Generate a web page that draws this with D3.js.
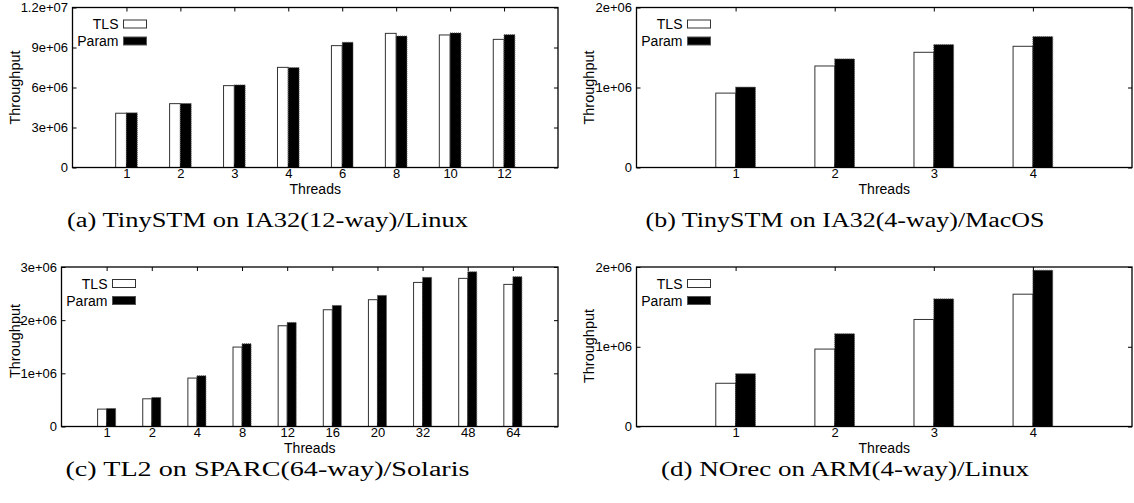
<!DOCTYPE html>
<html>
<head>
<meta charset="utf-8">
<script src="https://cdn.jsdelivr.net/npm/d3@7"></script>
<style>
  html, body { margin: 0; padding: 0; background: #fff; }
  svg text { font-family: "Liberation Sans", Arial, Helvetica, sans-serif; fill: #000; }
  .caption { font-family: "Liberation Serif", "DejaVu Serif", serif; }
</style>
</head>
<body>
<svg id="fig" width="1134" height="503"></svg>
<script>
// (a) TinySTM on IA32 (12-way) / Linux
const threadsA = ["1", "2", "3", "4", "6", "8", "10", "12"];
const tlsA   = [4.07e6, 4.79e6, 6.14e6, 7.51e6, 9.14e6, 1.006e7, 9.94e6, 9.61e6];
const paramA = [4.10e6, 4.80e6, 6.19e6, 7.49e6, 9.39e6, 9.86e6, 1.009e7, 9.96e6];
const yTicksA = [0, 3e6, 6e6, 9e6, 1.2e7];
const yLabelsA = ["0", "3e+06", "6e+06", "9e+06", "1.2e+07"];

// (b) TinySTM on IA32 (4-way) / MacOS
const threadsB = ["1", "2", "3", "4"];
const tlsB   = [0.930e6, 1.269e6, 1.440e6, 1.515e6];
const paramB = [1.005e6, 1.357e6, 1.536e6, 1.636e6];
const yTicksB = [0, 1e6, 2e6];
const yLabelsB = ["0", "1e+06", "2e+06"];

// (c) TL2 on SPARC (64-way) / Solaris
const threadsC = ["1", "2", "4", "8", "12", "16", "20", "32", "48", "64"];
const tlsC   = [0.327e6, 0.521e6, 0.911e6, 1.494e6, 1.895e6, 2.196e6, 2.385e6, 2.710e6, 2.786e6, 2.673e6];
const paramC = [0.339e6, 0.546e6, 0.954e6, 1.556e6, 1.957e6, 2.277e6, 2.466e6, 2.805e6, 2.910e6, 2.817e6];
const yTicksC = [0, 1e6, 2e6, 3e6];
const yLabelsC = ["0", "1e+06", "2e+06", "3e+06"];

// (d) NOrec on ARM (4-way) / Linux
const threadsD = ["1", "2", "3", "4"];
const tlsD   = [0.542e6, 0.971e6, 1.342e6, 1.659e6];
const paramD = [0.662e6, 1.163e6, 1.600e6, 1.959e6];
const yTicksD = [0, 1e6, 2e6];
const yLabelsD = ["0", "1e+06", "2e+06"];

const seriesNames = ["TLS", "Param"];
const captions = [
  "(a) TinySTM on IA32(12-way)/Linux",
  "(b) TinySTM on IA32(4-way)/MacOS",
  "(c) TL2 on SPARC(64-way)/Solaris",
  "(d) NOrec on ARM(4-way)/Linux"
];

const svg = d3.select("#fig");

const panels = [
  { threads: threadsA, tls: tlsA, param: paramA, ticks: yTicksA, labels: yLabelsA,
    box: { left: 72.5, right: 558, top: 7.5, bottom: 167.5 }, ylabX: 20, ylabY: 87.5,
    caption: captions[0], capX: 267.5, capY: 227, capW: 401 },
  { threads: threadsB, tls: tlsB, param: paramB, ticks: yTicksB, labels: yLabelsB,
    box: { left: 636.5, right: 1132, top: 7.5, bottom: 167.5 }, ylabX: 594, ylabY: 87.5,
    caption: captions[1], capX: 845, capY: 227, capW: 399 },
  { threads: threadsC, tls: tlsC, param: paramC, ticks: yTicksC, labels: yLabelsC,
    box: { left: 61.5, right: 558, top: 267, bottom: 426.5 }, ylabX: 20, ylabY: 341,
    caption: captions[2], capX: 267.5, capY: 476, capW: 404 },
  { threads: threadsD, tls: tlsD, param: paramD, ticks: yTicksD, labels: yLabelsD,
    box: { left: 636.5, right: 1132, top: 267, bottom: 426.5 }, ylabX: 594, ylabY: 346,
    caption: captions[3], capX: 845, capY: 476, capW: 368 }
];

const halfGroup = 0.2; // each bar covers 0.2 of a category slot

panels.forEach(p => {
  const b = p.box;
  const n = p.threads.length;
  const x = d3.scaleLinear().domain([0, n + 1]).range([b.left, b.right]);
  const y = d3.scaleLinear().domain([0, p.ticks[p.ticks.length - 1]]).range([b.bottom, b.top]);
  const g = svg.append("g");

  // bars
  const rows = p.threads.map((t, i) => ({ pos: i + 1, tls: p.tls[i], param: p.param[i] }));
  g.selectAll("rect.tls").data(rows).join("rect")
    .attr("class", "tls")
    .attr("x", d => x(d.pos - halfGroup))
    .attr("width", d => x(d.pos) - x(d.pos - halfGroup))
    .attr("y", d => y(d.tls))
    .attr("height", d => y(0) - y(d.tls))
    .attr("fill", "#fff").attr("stroke", "#333").attr("stroke-width", 1);
  g.selectAll("rect.param").data(rows).join("rect")
    .attr("class", "param")
    .attr("x", d => x(d.pos))
    .attr("width", d => x(d.pos + halfGroup) - x(d.pos))
    .attr("y", d => y(d.param))
    .attr("height", d => y(0) - y(d.param))
    .attr("fill", "#000").attr("stroke", "#555").attr("stroke-width", 1)
    .attr("stroke-dasharray", "1,1");

  const catTicks = rows.map(d => d.pos);

  // left axis with labels, ticks pointing inward
  const left = g.append("g").attr("transform", `translate(${b.left},0)`)
    .call(d3.axisLeft(y).tickValues(p.ticks).tickSizeInner(-4).tickSizeOuter(0)
      .tickPadding(4.5).tickFormat((d, i) => p.labels[i]));
  // right mirror ticks
  const right = g.append("g").attr("transform", `translate(${b.right},0)`)
    .call(d3.axisRight(y).tickValues(p.ticks).tickSizeInner(-4).tickSizeOuter(0).tickFormat(""));
  // bottom axis with thread counts
  const bottom = g.append("g").attr("transform", `translate(0,${b.bottom})`)
    .call(d3.axisBottom(x).tickValues(catTicks).tickSizeInner(-4).tickSizeOuter(0)
      .tickPadding(1.5).tickFormat((d, i) => p.threads[i]));
  // top mirror ticks
  const top = g.append("g").attr("transform", `translate(0,${b.top})`)
    .call(d3.axisTop(x).tickValues(catTicks).tickSizeInner(-4).tickSizeOuter(0).tickFormat(""));

  [left, right, bottom, top].forEach(a => {
    a.select(".domain").remove();
    a.selectAll("line").attr("stroke", "#000");
    a.selectAll("text").style("font-size", "13px")
      .style("font-family", "'Liberation Sans', Arial, sans-serif");
  });

  // frame
  g.append("rect")
    .attr("x", b.left).attr("y", b.top)
    .attr("width", b.right - b.left).attr("height", b.bottom - b.top)
    .attr("fill", "none").attr("stroke", "#000").attr("stroke-width", 1.3);

  // axis titles
  g.append("text")
    .attr("x", (b.left + b.right) / 2).attr("y", b.bottom + 26.5)
    .attr("text-anchor", "middle").style("font-size", "14px")
    .text("Threads");
  g.append("text")
    .attr("transform", `translate(${p.ylabX},${p.ylabY}) rotate(-90)`)
    .attr("text-anchor", "middle").style("font-size", "14.5px")
    .text("Throughput");

  // legend
  const legendX = b.left + 51;
  seriesNames.forEach((name, k) => {
    const cy = b.top + 16.5 + k * 17;
    g.append("text")
      .attr("x", legendX - 5).attr("y", cy + 5)
      .attr("text-anchor", "end").style("font-size", "14px")
      .text(name);
    g.append("rect")
      .attr("x", legendX).attr("y", cy - 4)
      .attr("width", 23).attr("height", 8)
      .attr("fill", k === 0 ? "#fff" : "#000")
      .attr("stroke", k === 0 ? "#333" : "#555").attr("stroke-width", 1);
  });

  // caption under the panel
  svg.append("text")
    .attr("class", "caption")
    .attr("x", p.capX).attr("y", p.capY)
    .attr("text-anchor", "middle")
    .attr("textLength", p.capW).attr("lengthAdjust", "spacingAndGlyphs")
    .style("font-size", "20px")
    .text(p.caption);
});
</script>
</body>
</html>
